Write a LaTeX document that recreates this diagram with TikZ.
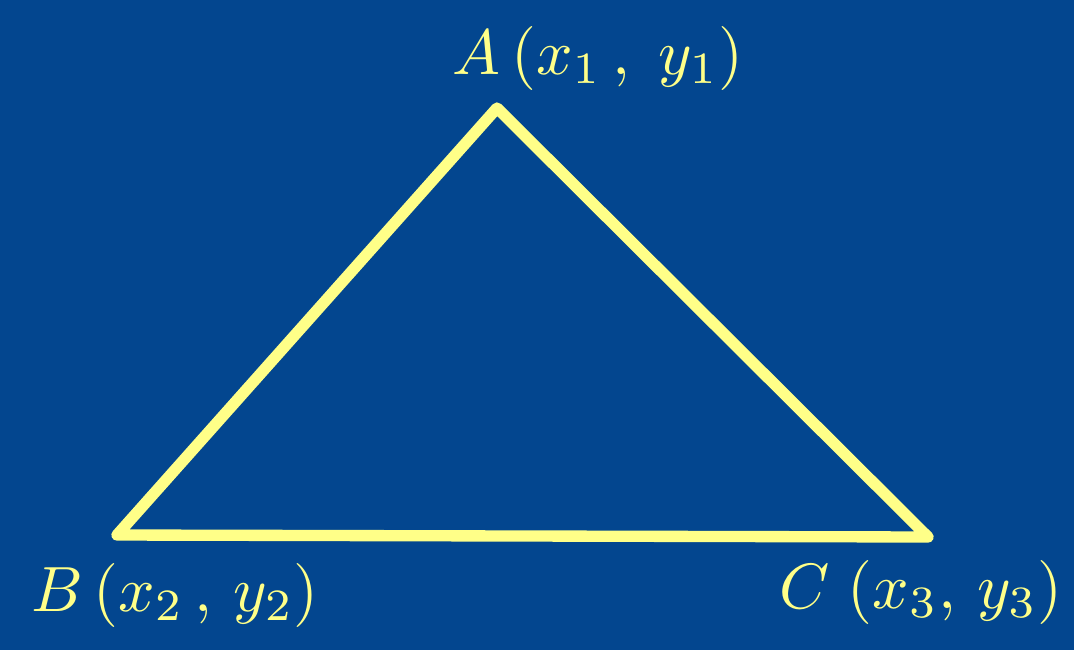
\documentclass[tikz,border=0pt]{standalone}
\usepackage{amsmath}
\definecolor{bgblue}{HTML}{03468F}
\definecolor{chalk}{HTML}{FFFF88}
\begin{document}
\begin{tikzpicture}[x=0.75pt,y=-0.75pt,
  side/.style={draw=chalk,line width=8.5pt,line join=round,line cap=round},
  lbl/.style={text=chalk,scale=4.8,inner sep=0pt}]
\fill[bgblue] (0,0) rectangle (1074,650);
\useasboundingbox (0,0) rectangle (1074,650);
\coordinate (A) at (497,108);
\coordinate (B) at (117,535);
\coordinate (C) at (928,537);
\draw[side] (A) -- (B) -- (C) -- cycle;
\node[lbl] (la) at (598,58) {$A\,(x_1\,,\; y_1)$};
\node[lbl] (lb) at (175,595) {$B\,(x_2\,,\, y_2)$};
\node[lbl] (lc) at (921,592) {$C\;(x_3,\, y_3)$};
\end{tikzpicture}
\end{document}
